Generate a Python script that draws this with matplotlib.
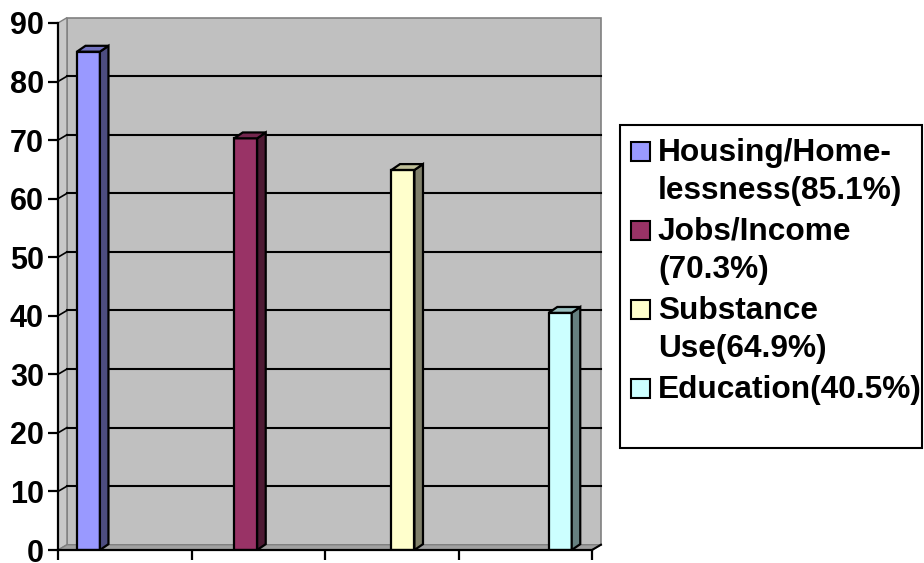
import matplotlib.pyplot as plt
from matplotlib.patches import Polygon, Rectangle

plt.rcParams['font.family'] = ['Liberation Sans', 'DejaVu Sans']

# data
labels = ["Housing/Home-\nlessness(85.1%)", "Jobs/Income\n(70.3%)",
          "Substance\nUse(64.9%)", "Education(40.5%)"]
values = [85.1, 70.3, 64.9, 40.5]
yticks = [0, 10, 20, 30, 40, 50, 60, 70, 80, 90]
front_colors = ["#9999FF", "#993366", "#FFFFCC", "#CCFFFF"]
side_colors = ["#4D4D80", "#4D1A33", "#80806A", "#668080"]
top_colors = ["#7373BF", "#73264D", "#BFBF99", "#99BFBF"]

W, H = 924, 563
fig = plt.figure(figsize=(W / 100, H / 100), dpi=100)
ax = fig.add_axes([58 / W, 13 / H, 4.1 * 133.5 / W, 92 * 5.856 / H])
ax.set_xlim(0, 4.1)
ax.set_ylim(0, 92)

dx, dy = 0.067, 0.9      # wall depth
bdx, bdy = 0.064, 1.0    # bar depth
ymax = 90
n = 4

# walls
ax.add_patch(Rectangle((dx, dy), n, ymax, facecolor="#C0C0C0",
                       edgecolor="#808080", lw=1.2, zorder=0))
ax.add_patch(Polygon([(0, 0), (dx, dy), (dx, ymax + dy), (0, ymax)],
                     closed=True, facecolor="#C8C8C8", edgecolor="#808080",
                     lw=1.0, zorder=0.5))
ax.add_patch(Polygon([(0, 0), (n, 0), (n + dx, dy), (dx, dy)],
                     closed=True, facecolor="#A0A0A0", edgecolor="#808080",
                     lw=1.0, zorder=0.5))

# gridlines on back wall and left wall
for v in yticks[1:-1]:
    ax.plot([dx, n + dx], [v + dy, v + dy], color="black", lw=1.5, zorder=1)
    ax.plot([0, dx], [v, v + dy], color="black", lw=1.2, zorder=1)
ax.plot([n, n + dx], [0, dy], color="black", lw=1.5, zorder=1, clip_on=False)

# bars
width = 0.172
lefts = [0.142 + i * 1.178 for i in range(n)]
ax.bar(lefts, values, width=width, align="edge", color=front_colors,
       edgecolor="black", linewidth=1.6, zorder=3)
for x, v, sc, tc in zip(lefts, values, side_colors, top_colors):
    ax.add_patch(Polygon([(x + width, 0), (x + width + bdx, bdy),
                          (x + width + bdx, v + bdy), (x + width, v)],
                         closed=True, facecolor=sc, edgecolor="black",
                         lw=1.6, zorder=3))
    ax.add_patch(Polygon([(x, v), (x + width, v), (x + width + bdx, v + bdy),
                          (x + bdx, v + bdy)],
                         closed=True, facecolor=tc, edgecolor="black",
                         lw=1.6, zorder=3))

# axes
for s in ["top", "right"]:
    ax.spines[s].set_visible(False)
ax.spines["left"].set_bounds(0, ymax)
ax.spines["bottom"].set_bounds(0, n)
for s in ["left", "bottom"]:
    ax.spines[s].set_linewidth(1.6)
    ax.spines[s].set_zorder(4)
ax.set_yticks(yticks)
ax.set_xticks(range(n + 1))
ax.set_xticklabels([])
ax.tick_params(axis="both", direction="out", length=7.2, width=1.6, pad=3)
ax.tick_params(axis="y", labelsize=22)
for t in ax.get_yticklabels():
    t.set_fontweight("bold")
ax.set_facecolor("none")

# legend box
fig.patches.append(Rectangle((620 / W, 1 - 448 / H), 302 / W, 323 / H,
                             transform=fig.transFigure, facecolor="white",
                             edgecolor="black", lw=1.5))
base = 161
for i, (lab, fc) in enumerate(zip(labels, front_colors)):
    y0 = base + i * 79
    fig.patches.append(Rectangle((631 / W, 1 - (y0) / H), 19 / W, 19 / H,
                                 transform=fig.transFigure, facecolor=fc,
                                 edgecolor="black", lw=1.5))
    for j, line in enumerate(lab.split("\n")):
        fig.text(658 / W, 1 - (y0 + j * 37.7) / H, line, fontsize=22.8,
                 fontweight="bold", va="baseline", ha="left")

fig.savefig("out.png", dpi=100)
